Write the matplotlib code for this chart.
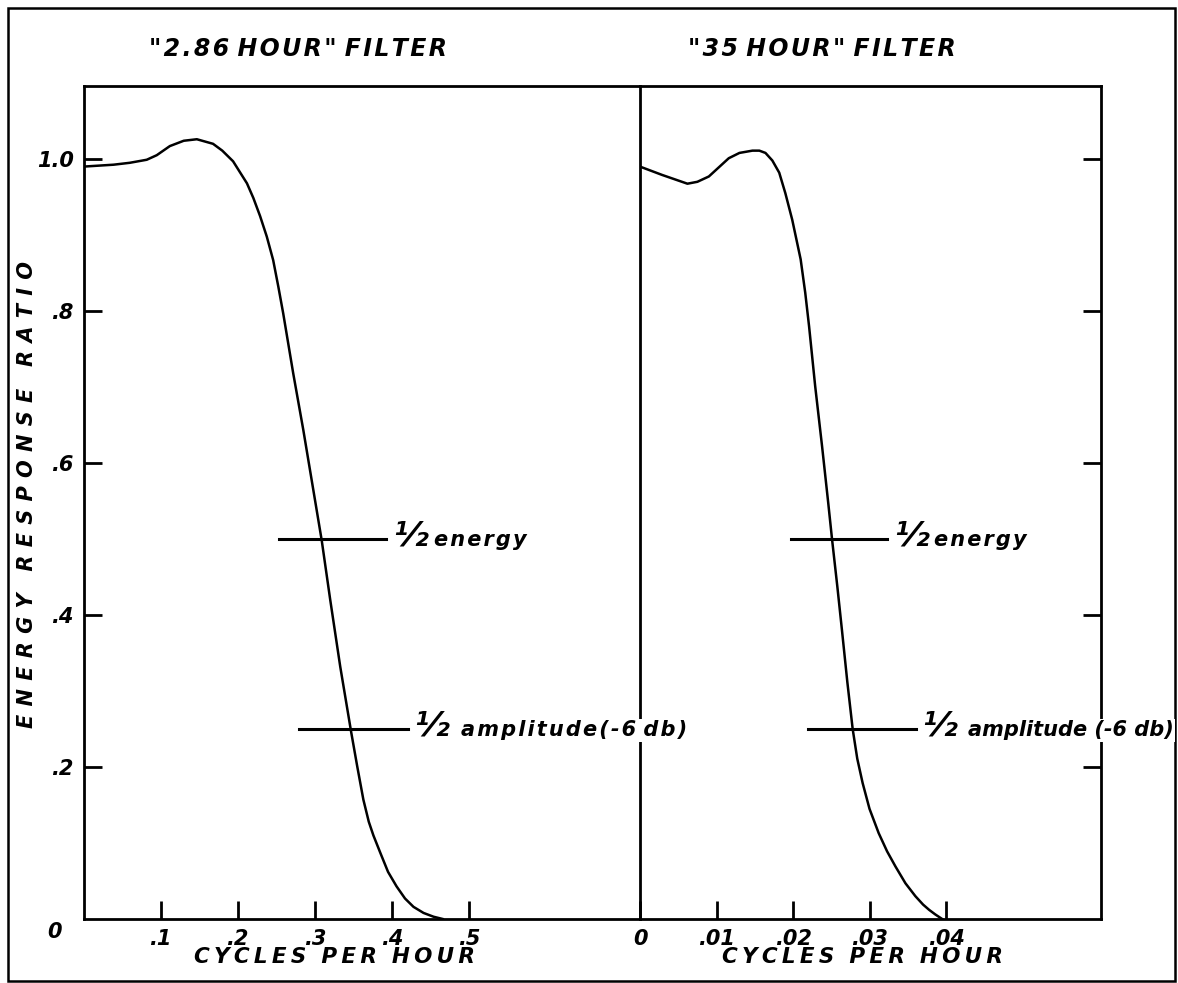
import matplotlib as mpl
mpl.use('Agg')
import matplotlib.pyplot as plt

# "2.86 hour" filter
f_short = [0.0, 0.039, 0.060, 0.082, 0.095, 0.112, 0.130, 0.147, 0.168, 0.180,
           0.194, 0.212, 0.2203, 0.229, 0.2377, 0.246, 0.2527, 0.259, 0.272, 0.285,
           0.298, 0.309, 0.320, 0.333, 0.347, 0.355, 0.363, 0.370, 0.376, 0.385,
           0.395, 0.406, 0.417, 0.428, 0.441, 0.454, 0.466]
r_short = [0.990, 0.9925, 0.995, 0.999, 1.005, 1.017, 1.024, 1.026, 1.020, 1.011,
           0.997, 0.968, 0.9487, 0.925, 0.898, 0.867, 0.832, 0.797, 0.718, 0.644,
           0.565, 0.498, 0.420, 0.332, 0.247, 0.201, 0.157, 0.128, 0.110, 0.087,
           0.062, 0.043, 0.027, 0.016, 0.008, 0.003, 0.0]

# "35 hour" filter
f_long = [0.0, 0.0029, 0.0062, 0.0075, 0.0090, 0.0103, 0.0116, 0.0130, 0.0147,
          0.0156, 0.0164, 0.0173, 0.0182, 0.0190, 0.0199, 0.0210, 0.0216, 0.0221,
          0.0229, 0.0238, 0.0246, 0.0251, 0.0258, 0.0264, 0.0271, 0.0278, 0.0284,
          0.0291, 0.0300, 0.0312, 0.0323, 0.0334, 0.0347, 0.0360, 0.0370, 0.0378,
          0.0386, 0.0395]
r_long = [0.990, 0.979, 0.9675, 0.970, 0.977, 0.989, 1.001, 1.008, 1.011,
          1.011, 1.008, 0.998, 0.982, 0.955, 0.920, 0.868, 0.824, 0.780,
          0.701, 0.622, 0.548, 0.500, 0.437, 0.380, 0.312, 0.250, 0.211,
          0.179, 0.145, 0.113, 0.089, 0.069, 0.047, 0.030, 0.019, 0.012,
          0.006, 0.0]

# half energy / half amplitude marker lines (x start, x end)
energy_short = (0.254, 0.392)
ampl_short = (0.280, 0.421)
energy_long = (0.0198, 0.0323)
ampl_long = (0.0219, 0.0361)

xt_short = [0.1, 0.2, 0.3, 0.4, 0.5]
xl_short = ['.1', '.2', '.3', '.4', '.5']
xt_long = [0, 0.01, 0.02, 0.03, 0.04]
xl_long = ['0', '.01', '.02', '.03', '.04']
yt = [0.2, 0.4, 0.6, 0.8, 1.0]
yl = ['.2', '.4', '.6', '.8', '1.0']

plt.rcParams['font.family'] = 'DejaVu Sans'
plt.rcParams['font.style'] = 'oblique'
plt.rcParams['font.weight'] = 'bold'

W, H = 1178, 983
fig = plt.figure(figsize=(W / 100, H / 100), dpi=100)


def box(x0, x1, ytop, ybot):
    return [x0 / W, 1 - ybot / H, (x1 - x0) / W, (ybot - ytop) / H]


def spaced(s, gap='\u2009', sep='  '):
    return sep.join(gap.join(w) for w in s.split())


axL = fig.add_axes(box(83.5, 640, 86, 919))
axR = fig.add_axes(box(640, 1101, 86, 919))
axL.set_zorder(2)
axR.set_zorder(1)
ymax = (919 - 86) / 760
axL.set_xlim(0, (640 - 83.5) / 771)
axR.set_xlim(0, (1101 - 640) / 7650)

for ax in (axL, axR):
    ax.set_ylim(0, ymax)
    ax.patch.set_facecolor('none')
    for s in ax.spines.values():
        s.set_linewidth(2)
    ax.tick_params(direction='in', length=13, width=2, pad=7, labelsize=15)
axL.spines['right'].set_visible(False)

axL.plot(f_short, r_short, color='k', lw=1.8, solid_joinstyle='round')
axR.plot(f_long, r_long, color='k', lw=1.8, solid_joinstyle='round')

axL.set_xticks(xt_short, labels=xl_short)
axL.set_yticks(yt, labels=yl)
axL.annotate('0', xy=(0, 0), xytext=(-21, -9), textcoords='offset points',
             ha='center', va='center', fontsize=15, annotation_clip=False)
axR.set_xticks(xt_long, labels=xl_long)
axR.yaxis.tick_right()
axR.set_yticks(yt)
axR.tick_params(axis='y', labelright=False)


def mark(ax, span, y, word, half_dx, word_dx):
    ax.plot(span, [y, y], color='k', lw=2.2, clip_on=False)
    ax.annotate('½', xy=(span[1], y), xytext=(half_dx, 2), textcoords='offset points',
                ha='left', va='center', fontsize=24, zorder=10,
                bbox=dict(fc='white', ec='none', pad=0.5))
    ax.annotate(word, xy=(span[1], y), xytext=(word_dx, -1), textcoords='offset points',
                ha='left', va='center', fontsize=15, zorder=10,
                bbox=dict(fc='white', ec='none', pad=1))


mark(axL, energy_short, 0.5, spaced('energy', '\u200a'), 5, 35)
mark(axL, ampl_short, 0.25, spaced('amplitude(-6 db)', '\u200a', ' '), 4, 38)
mark(axR, energy_long, 0.5, spaced('energy', '\u200a'), 5, 34)
mark(axR, ampl_long, 0.25, 'amplitude (-6 db)', 4, 37.5)

fig.text(298 / W, 1 - 49 / H, spaced('"2.86 HOUR" FILTER', '\u200a', ' '),
         ha='center', va='center', fontsize=17)
fig.text(822 / W, 1 - 49 / H, spaced('"35 HOUR" FILTER', '\u200a', ' '),
         ha='center', va='center', fontsize=17)
fig.text(334 / W, 1 - 957 / H, spaced('CYCLES PER HOUR'), ha='center', va='center', fontsize=15.5)
fig.text(862 / W, 1 - 957 / H, spaced('CYCLES PER HOUR'), ha='center', va='center', fontsize=15.5)
fig.text(27 / W, 1 - 495 / H, spaced('ENERGY RESPONSE RATIO', '\u2009\u2009', '   '),
         ha='center', va='center', rotation=90, fontsize=15)

fig.add_artist(plt.Rectangle((8 / W, 1 - 981 / H), (1175 - 8) / W, (981 - 8) / H,
                             transform=fig.transFigure, fill=False, lw=1.8, ec='black'))

fig.savefig('out.png', dpi=100, facecolor='white')
